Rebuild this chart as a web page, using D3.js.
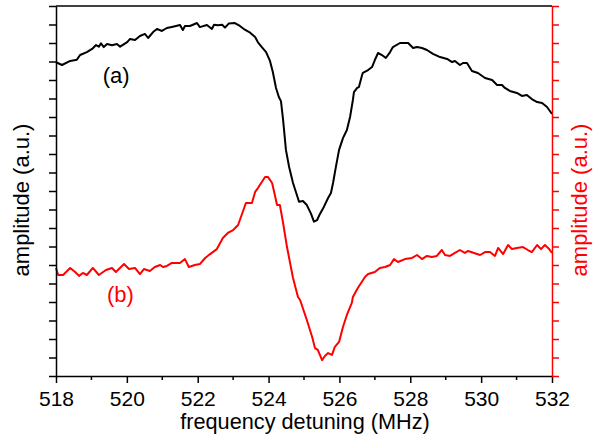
<!DOCTYPE html>
<html>
<head>
<meta charset="utf-8">
<script src="https://cdn.jsdelivr.net/npm/d3@7"></script>
<style>
  html, body { margin: 0; padding: 0; background: #fff; }
  svg { display: block; font-family: "Liberation Sans", Arial, sans-serif; }
</style>
</head>
<body>
<div id="chart"></div>
<script>
// curve (a): frequency (MHz) and amplitude (a.u., left axis units)
const freqA = [518.00, 518.17, 518.40, 518.59, 518.68, 518.87, 519.02, 519.13, 519.21, 519.27, 519.35, 519.44, 519.58, 519.72, 519.81,
  520.01, 520.09, 520.23, 520.37, 520.51, 520.60, 520.74, 520.85, 520.99, 521.13, 521.30, 521.50, 521.58, 521.64, 521.78, 521.98,
  522.06, 522.26, 522.40, 522.46, 522.57, 522.69, 522.77, 522.88, 523.05, 523.19, 523.33, 523.48, 523.62, 523.70, 523.81, 523.93,
  524.04, 524.12, 524.21, 524.29, 524.35, 524.41, 524.49, 524.58, 524.69, 524.86, 524.97, 525.08, 525.20, 525.28, 525.37, 525.45,
  525.56, 525.68, 525.76, 525.82, 525.90, 525.99, 526.10, 526.21, 526.30, 526.38, 526.41, 526.50, 526.55, 526.64, 526.66, 526.81,
  526.92, 527.00, 527.09, 527.20, 527.31, 527.43, 527.51, 527.71, 527.94, 528.08, 528.19, 528.33, 528.47, 528.64, 528.84, 529.04,
  529.18, 529.26, 529.40, 529.49, 529.60, 529.74, 529.91, 530.11, 530.31, 530.45, 530.59, 530.67, 530.81, 531.01, 531.15, 531.29,
  531.43, 531.58, 531.72, 531.86, 532.00];
const ampA = [16.96, 16.81, 17.03, 17.10, 17.35, 17.51, 17.68, 17.89, 17.80, 17.98, 17.78, 17.95, 17.88, 17.95, 17.80,
  18.05, 18.22, 18.16, 18.38, 18.49, 18.27, 18.59, 18.76, 18.65, 18.81, 18.88, 18.97, 18.70, 18.92, 18.92, 19.08,
  18.86, 18.97, 18.76, 18.99, 18.96, 18.99, 18.83, 19.06, 19.08, 18.92, 18.72, 18.56, 18.32, 18.04, 17.78, 17.51,
  17.03, 16.43, 15.57, 15.08, 14.86, 13.84, 12.22, 11.30, 10.43, 9.42, 9.46, 9.24, 8.76, 8.34, 8.43, 8.76,
  9.14, 9.62, 9.89, 10.43, 11.30, 12.22, 12.86, 13.30, 14.00, 14.92, 15.35, 15.57, 15.62, 16.27, 16.38, 16.54,
  16.70, 17.08, 17.46, 17.35, 17.19, 17.51, 17.78, 18.00, 18.00, 17.73, 17.78, 17.73, 17.62, 17.41, 17.24, 17.14,
  16.97, 17.03, 16.81, 16.92, 16.92, 16.49, 16.38, 16.11, 16.00, 15.73, 15.73, 15.57, 15.41, 15.30, 15.14, 15.19,
  14.97, 14.81, 14.76, 14.54, 14.16];

// curve (b): frequency (MHz) and amplitude (a.u., right axis units)
const freqB = [518.00, 518.06, 518.20, 518.40, 518.54, 518.65, 518.76, 518.87, 519.04, 519.21, 519.41, 519.58, 519.69, 519.92,
  520.06, 520.23, 520.37, 520.48, 520.65, 520.79, 520.94, 521.02, 521.13, 521.27, 521.50, 521.64, 521.75, 521.92,
  522.06, 522.21, 522.35, 522.54, 522.71, 522.85, 523.00, 523.14, 523.36, 523.53, 523.62, 523.70, 523.90, 523.98,
  524.10, 524.24, 524.32, 524.41, 524.52, 524.69, 524.83, 524.89, 525.08, 525.23, 525.31, 525.39, 525.51, 525.59,
  525.68, 525.79, 525.87, 525.99, 526.10, 526.21, 526.35, 526.38, 526.52, 526.72, 526.81, 527.00, 527.14, 527.29,
  527.43, 527.54, 527.65, 527.85, 528.05, 528.19, 528.33, 528.47, 528.61, 528.75, 528.89, 528.98, 529.12, 529.26,
  529.40, 529.54, 529.63, 529.80, 529.97, 530.11, 530.25, 530.39, 530.48, 530.62, 530.76, 530.87, 531.01, 531.18,
  531.32, 531.43, 531.58, 531.69, 531.80, 531.92, 532.00];
const ampB = [5.84, 5.46, 5.46, 5.84, 5.62, 5.41, 5.57, 5.46, 5.84, 5.46, 5.73, 5.84, 5.62, 6.05,
  5.78, 5.84, 5.51, 5.78, 5.68, 5.89, 6.00, 5.89, 5.95, 6.11, 6.11, 6.32, 5.89, 6.00,
  6.05, 6.38, 6.59, 6.86, 7.46, 7.73, 7.89, 8.16, 9.35, 9.35, 9.95, 10.16, 10.76, 10.76,
  10.43, 9.24, 9.24, 8.27, 6.97, 5.30, 4.27, 4.11, 3.03, 2.11, 1.51, 1.41, 0.86, 1.08,
  1.24, 1.14, 1.57, 1.84, 2.65, 3.30, 3.95, 4.27, 4.76, 5.35, 5.51, 5.62, 5.84, 5.89,
  6.00, 6.32, 6.16, 6.32, 6.38, 6.54, 6.32, 6.49, 6.43, 6.49, 6.81, 6.54, 6.49, 6.65,
  6.81, 6.65, 6.76, 6.65, 6.54, 6.70, 6.70, 6.49, 6.92, 6.59, 7.08, 6.86, 6.92, 6.97,
  6.81, 6.70, 7.08, 6.86, 7.08, 6.86, 6.65];

const xMajorTicks = [518, 520, 522, 524, 526, 528, 530, 532];
const xMinorTicks = [519, 521, 523, 525, 527, 529, 531];
const yTicks = d3.range(0, 21);
const curveLabels = ["(a)", "(b)"];
const xTitle = "frequency detuning (MHz)";
const yTitle = "amplitude (a.u.)";

const W = 609, H = 440;
const margin = { top: 6, right: 57, bottom: 64, left: 56 };
const red = "#ff0000";

const svg = d3.select("#chart").append("svg").attr("width", W).attr("height", H);

const x = d3.scaleLinear().domain([518, 532]).range([margin.left, W - margin.right]);
const yL = d3.scaleLinear().domain([0, 20]).range([H - margin.bottom, margin.top]);
const yR = d3.scaleLinear().domain([0, 20]).range([H - margin.bottom, margin.top]);

// top frame line
svg.append("line")
  .attr("x1", x(518)).attr("x2", x(532))
  .attr("y1", yL(20)).attr("y2", yL(20))
  .attr("stroke", "#000").attr("stroke-width", 1.5);

// curves
const lineA = d3.line().x((d, i) => x(freqA[i])).y((d) => yL(d));
const lineB = d3.line().x((d, i) => x(freqB[i])).y((d) => yR(d));

svg.append("path").datum(ampA)
  .attr("d", lineA).attr("fill", "none")
  .attr("stroke", "#000").attr("stroke-width", 2).attr("stroke-linejoin", "round");

svg.append("path").datum(ampB)
  .attr("d", lineB).attr("fill", "none")
  .attr("stroke", red).attr("stroke-width", 2).attr("stroke-linejoin", "round");

// bottom axis
const gx = svg.append("g").attr("transform", `translate(0,${yL(0)})`);
gx.call(d3.axisBottom(x).tickValues(xMajorTicks).tickSize(7).tickSizeOuter(0).tickFormat(d3.format("d")));
gx.selectAll(".tick text")
  .attr("font-size", 21).attr("font-family", "Liberation Sans, Arial, sans-serif")
  .attr("fill", "#000").attr("dy", null).attr("y", 30);
gx.selectAll(".tick line").attr("stroke-width", 1.5);
gx.select(".domain").attr("stroke-width", 1.5);
gx.selectAll(".minor").data(xMinorTicks).join("line")
  .attr("class", "minor")
  .attr("x1", (d) => x(d)).attr("x2", (d) => x(d))
  .attr("y1", 0).attr("y2", 4)
  .attr("stroke", "#000").attr("stroke-width", 1.5);

// left axis
const gl = svg.append("g").attr("transform", `translate(${x(518)},0)`);
gl.call(d3.axisLeft(yL).tickValues(yTicks).tickSize(7).tickSizeOuter(0).tickFormat(""));
gl.selectAll(".tick line").attr("stroke-width", 1.5);
gl.select(".domain").attr("stroke-width", 1.5);

// right axis (red)
const gr = svg.append("g").attr("transform", `translate(${x(532)},0)`);
gr.call(d3.axisRight(yR).tickValues(yTicks).tickSize(7).tickSizeOuter(0).tickFormat(""));
gr.selectAll(".tick line").attr("stroke", red).attr("stroke-width", 1.5);
gr.select(".domain").attr("stroke", red).attr("stroke-width", 1.5);

// curve labels
svg.append("text").text(curveLabels[0])
  .attr("x", x(519.7)).attr("y", 83)
  .attr("text-anchor", "middle").attr("font-size", 22).attr("fill", "#000");
svg.append("text").text(curveLabels[1])
  .attr("x", x(519.82)).attr("y", 302)
  .attr("text-anchor", "middle").attr("font-size", 22).attr("fill", red);

// axis titles
svg.append("text").text(xTitle)
  .attr("x", (x(518) + x(532)) / 2 + 1).attr("y", 429)
  .attr("text-anchor", "middle").attr("font-size", 21.7).attr("fill", "#000");

svg.append("text").text(yTitle)
  .attr("transform", "translate(29,200) rotate(-90)")
  .attr("text-anchor", "middle").attr("font-size", 22).attr("fill", "#000");

svg.append("text").text(yTitle)
  .attr("transform", "translate(587,200) rotate(-90)")
  .attr("text-anchor", "middle").attr("font-size", 22).attr("fill", red);
</script>
</body>
</html>
